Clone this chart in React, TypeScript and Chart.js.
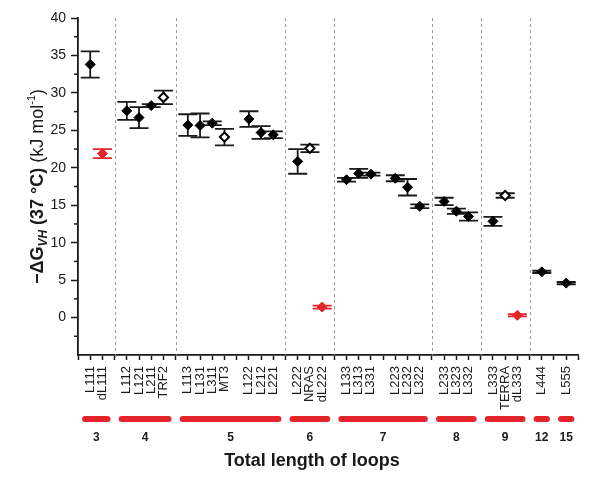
import { useEffect, useRef } from 'react';
import { Chart, registerables } from 'chart.js';

Chart.register(...registerables);

// x slots: '|' = dashed group separator, '' = empty slot
const slots = ['', 'L111', 'dL111', '|', 'L112', 'L121', 'L211', 'TRF2', '|', 'L113', 'L131', 'L311', 'MT3', '', 'L122', 'L212', 'L221', '|', 'L222', 'NRAS', 'dL222', '|', 'L133', 'L313', 'L331', '', 'L223', 'L232', 'L322', '|', 'L233', 'L323', 'L332', '|', 'L333', 'TERRA', 'dL333', '|', 'L444', '', 'L555', ''];

const samples = ['L111', 'dL111', 'L112', 'L121', 'L211', 'TRF2', 'L113', 'L131', 'L311', 'MT3', 'L122', 'L212', 'L221', 'L222', 'NRAS', 'dL222', 'L133', 'L313', 'L331', 'L223', 'L232', 'L322', 'L233', 'L323', 'L332', 'L333', 'TERRA', 'dL333', 'L444', 'L555'];
const dG = [33.8, 21.9, 27.6, 26.7, 28.3, 29.4, 25.7, 25.65, 25.95, 24.1, 26.5, 24.7, 24.4, 20.85, 22.6, 1.4, 18.4, 19.25, 19.15, 18.6, 17.4, 14.85, 15.5, 14.2, 13.5, 12.85, 16.3, 0.3, 6.1, 4.6];
const dGErr = [1.75, 0.6, 1.2, 1.4, 0.2, 0.9, 1.45, 1.6, 0.25, 1.1, 1.05, 0.85, 0.45, 1.65, 0.5, 0.2, 0.25, 0.6, 0.2, 0.4, 1.1, 0.25, 0.5, 0.35, 0.55, 0.6, 0.3, 0.15, 0.15, 0.15];

const openSamples = ['TRF2', 'MT3', 'NRAS', 'TERRA'];
const redSamples = ['dL111', 'dL222', 'dL333'];

const loopTotals = ['3', '4', '5', '6', '7', '8', '9', '12', '15'];
const loopGroupFirst = ['L111', 'L112', 'L113', 'L222', 'L133', 'L233', 'L333', 'L444', 'L555'];
const loopGroupLast = ['dL111', 'TRF2', 'L221', 'dL222', 'L322', 'L332', 'dL333', 'L444', 'L555'];

const yMin = -5;
const yMax = 40;

const FONT = "'Liberation Sans', Arial, Helvetica, sans-serif";
const RED = '#e3252b';
const INK = '#1a1a1a';

const slotOf = (name: string) => slots.indexOf(name);

function pointsOf(pred: (s: string) => boolean) {
  return samples
    .map((s, i) => ({ x: slotOf(s), y: dG[i], name: s }))
    .filter((p) => pred(p.name));
}

const errorBarsPlugin = {
  id: 'errorBars',
  beforeDatasetsDraw(chart: any) {
    const { ctx, scales } = chart;
    const x = scales.x;
    const y = scales.y;
    ctx.save();
    ctx.lineWidth = 1.8;
    samples.forEach((s, i) => {
      const px = x.getPixelForValue(slotOf(s));
      const top = y.getPixelForValue(dG[i] + dGErr[i]);
      const bot = y.getPixelForValue(dG[i] - dGErr[i]);
      ctx.strokeStyle = redSamples.includes(s) ? RED : INK;
      ctx.beginPath();
      ctx.moveTo(px, top);
      ctx.lineTo(px, bot);
      ctx.moveTo(px - 9.5, top);
      ctx.lineTo(px + 9.5, top);
      ctx.moveTo(px - 9.5, bot);
      ctx.lineTo(px + 9.5, bot);
      ctx.stroke();
    });
    ctx.restore();
  },
};

const separatorsPlugin = {
  id: 'separators',
  beforeDatasetsDraw(chart: any) {
    const { ctx, chartArea, scales } = chart;
    ctx.save();
    ctx.strokeStyle = '#9a9a9a';
    ctx.lineWidth = 1;
    ctx.setLineDash([3, 3]);
    slots.forEach((s, i) => {
      if (s !== '|') return;
      const px = Math.round(scales.x.getPixelForValue(i)) + 0.5;
      ctx.beginPath();
      ctx.moveTo(px, chartArea.top);
      ctx.lineTo(px, chartArea.bottom);
      ctx.stroke();
    });
    ctx.restore();
  },
};

const decorPlugin = {
  id: 'decor',
  afterDraw(chart: any) {
    const { ctx, chartArea, scales } = chart;
    const x = scales.x;
    const y = scales.y;
    ctx.save();

    // minor y ticks
    ctx.strokeStyle = INK;
    ctx.lineWidth = 1.5;
    for (let v = yMin + 2.5; v < yMax; v += 5) {
      const py = y.getPixelForValue(v);
      ctx.beginPath();
      ctx.moveTo(chartArea.left - 4, py);
      ctx.lineTo(chartArea.left, py);
      ctx.stroke();
    }

    // loop-length group bars and labels
    const barY = chartArea.bottom + 64;
    const labY = chartArea.bottom + 83;
    ctx.lineCap = 'round';
    loopTotals.forEach((t, i) => {
      const a = x.getPixelForValue(slotOf(loopGroupFirst[i]) - 0.42);
      const b = x.getPixelForValue(slotOf(loopGroupLast[i]) + 0.42);
      ctx.strokeStyle = RED;
      ctx.lineWidth = 6;
      ctx.beginPath();
      ctx.moveTo(a, barY);
      ctx.lineTo(b, barY);
      ctx.stroke();
      ctx.fillStyle = INK;
      ctx.font = `bold 12px ${FONT}`;
      ctx.textAlign = 'center';
      ctx.textBaseline = 'middle';
      ctx.fillText(t, (a + b) / 2, labY);
    });

    // x title
    ctx.fillStyle = INK;
    ctx.font = `bold 18px ${FONT}`;
    ctx.textAlign = 'center';
    ctx.textBaseline = 'alphabetic';
    ctx.fillText('Total length of loops', 312, chartArea.bottom + 111);

    // y title with sub/superscripts
    const pieces: [string, string, number][] = [
      ['\u2212\u0394G', `bold 18px ${FONT}`, 0],
      ['VH', `italic bold 12px ${FONT}`, 4],
      [' (37 \u00B0C) ', `bold 18px ${FONT}`, 0],
      ['(kJ mol', `18px ${FONT}`, 0],
      ['-1', `11px ${FONT}`, -8],
      [')', `18px ${FONT}`, 0],
    ];
    let total = 0;
    const widths = pieces.map(([t, f]) => {
      ctx.font = f;
      const w = ctx.measureText(t).width;
      total += w;
      return w;
    });
    const cy = (chartArea.top + chartArea.bottom) / 2;
    ctx.translate(43, cy);
    ctx.rotate(-Math.PI / 2);
    ctx.textAlign = 'left';
    let cx = -total / 2;
    pieces.forEach(([t, f, dy], i) => {
      ctx.font = f;
      ctx.fillText(t, cx, dy);
      cx += widths[i];
    });
    ctx.restore();
  },
};

export default function App() {
  const ref = useRef<HTMLCanvasElement | null>(null);

  useEffect(() => {
    document.body.style.margin = '0';
    const canvas = ref.current;
    if (!canvas) return;
    const diamond = {
      pointStyle: 'rectRot' as const,
      pointRadius: 5,
      pointHoverRadius: 5,
      showLine: false,
    };
    const chart = new Chart(canvas, {
      type: 'scatter',
      data: {
        datasets: [
          {
            label: 'filled',
            data: pointsOf((s) => !openSamples.includes(s) && !redSamples.includes(s)),
            backgroundColor: '#000',
            borderColor: '#000',
            borderWidth: 1,
            ...diamond,
          },
          {
            label: 'open',
            data: pointsOf((s) => openSamples.includes(s)),
            backgroundColor: '#fff',
            borderColor: '#000',
            borderWidth: 2,
            ...diamond,
            pointRadius: 4.6,
          },
          {
            label: 'red',
            data: pointsOf((s) => redSamples.includes(s)),
            backgroundColor: RED,
            borderColor: RED,
            borderWidth: 1,
            ...diamond,
          },
        ],
      },
      options: {
        animation: false,
        responsive: false,
        events: [],
        layout: { padding: { left: 0, top: 18, right: 17, bottom: 0 } },
        plugins: {
          legend: { display: false },
          tooltip: { enabled: false },
          title: { display: false },
        },
        scales: {
          x: {
            type: 'linear',
            min: 0,
            max: slots.length - 1,
            afterBuildTicks: (scale: any) => {
              scale.ticks = slots.map((_, i) => ({ value: i }));
            },
            afterFit: (scale: any) => {
              scale.height = 126;
            },
            grid: {
              drawOnChartArea: false,
              drawTicks: true,
              tickLength: 5,
              tickColor: INK,
              tickWidth: 1.5,
            },
            border: { display: true, color: INK, width: 1.8 },
            ticks: {
              autoSkip: false,
              minRotation: 90,
              maxRotation: 90,
              padding: 6,
              color: INK,
              font: { family: FONT, size: 13 },
              callback: (v: any) => {
                const s = slots[Math.round(Number(v))];
                return s && s !== '|' ? s : '';
              },
            },
          },
          y: {
            type: 'linear',
            min: yMin,
            max: yMax,
            afterFit: (scale: any) => {
              scale.width = 78;
            },
            grid: {
              drawOnChartArea: false,
              drawTicks: true,
              tickLength: 7,
              tickWidth: 1.5,
              tickColor: (c: any) =>
                c.tick && c.tick.value % 5 === 0 && c.tick.value > yMin ? INK : 'rgba(0,0,0,0)',
            },
            border: { display: true, color: INK, width: 1.8 },
            ticks: {
              stepSize: 2.5,
              padding: 5,
              color: INK,
              font: { family: FONT, size: 14 },
              callback: (v: any) => {
                const n = Number(v);
                return n % 5 === 0 && n >= 0 ? String(n) : '';
              },
            },
          },
        },
      },
      plugins: [separatorsPlugin, errorBarsPlugin, decorPlugin],
    });
    return () => chart.destroy();
  }, []);

  return (
    <div style={{ width: 600, height: 481 }}>
      <canvas ref={ref} width={600} height={481} />
    </div>
  );
}
